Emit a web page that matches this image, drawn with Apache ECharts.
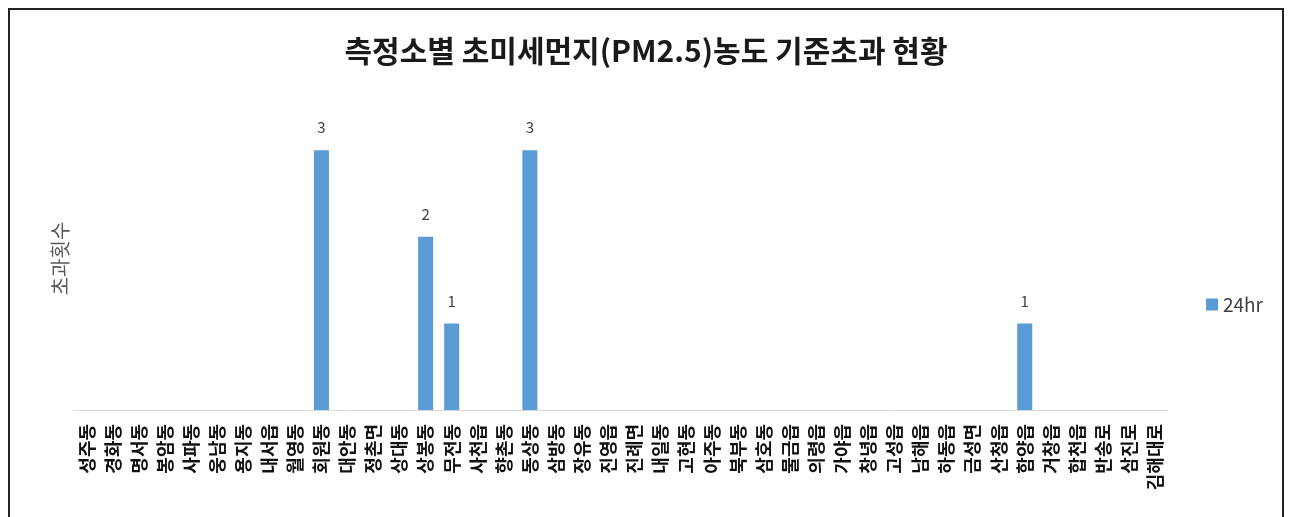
<!DOCTYPE html>
<html>
<head>
<meta charset="utf-8">
<script src="https://cdn.jsdelivr.net/npm/echarts@6/dist/echarts.min.js"></script>
<style>
html,body{margin:0;padding:0;background:#fff;}
#chart{width:1292px;height:517px;}
</style>
</head>
<body>
<div id="chart"></div>
<script>
const titleText = '측정소별 초미세먼지(PM2.5)농도 기준초과 현황';
const yAxisName = '초과횟수';
const seriesName = '24hr';
const stations = ['성주동','경화동','명서동','봉암동','사파동','웅남동','용지동','내서읍','월영동','회원동',
  '대안동','정촌면','상대동','상봉동','무전동','사천읍','향촌동','동상동','삼방동','장유동',
  '진영읍','진례면','내일동','고현동','아주동','북부동','삼호동','물금읍','의령읍','가야읍',
  '창녕읍','고성읍','남해읍','하동읍','금성면','산청읍','함양읍','거창읍','합천읍','반송로',
  '삼진로','김해대로'];
const exceedCounts = [0,0,0,0,0,0,0,0,0,3,
  0,0,0,2,1,0,0,3,0,0,
  0,0,0,0,0,0,0,0,0,0,
  0,0,0,0,0,0,1,0,0,0,
  0,0];

const chart = echarts.init(document.getElementById('chart'));
const font = '"Noto Sans CJK KR", "Noto Sans", sans-serif';
chart.setOption({
  backgroundColor: '#fff',
  animation: false,
  textStyle: {fontFamily: font},
  title: {
    text: titleText,
    left: 'center',
    top: 31,
    textStyle: {fontFamily: font, fontSize: 30, fontWeight: 'bold', color: '#1a1a1a'}
  },
  graphic: [{
    type: 'rect',
    shape: {x: 9, y: 9, width: 1274, height: 530},
    style: {fill: 'none', stroke: '#222', lineWidth: 2},
    silent: true
  }],
  legend: {
    data: [seriesName],
    left: 1201,
    top: 290,
    itemWidth: 12,
    itemHeight: 12,
    itemGap: 6,
    icon: 'rect',
    textStyle: {fontFamily: font, fontSize: 19, color: '#404040'}
  },
  grid: {left: 74, right: 124, top: 107, bottom: 107, containLabel: false},
  xAxis: {
    type: 'category',
    data: stations,
    axisLine: {lineStyle: {color: '#d9d9d9', width: 1}},
    axisTick: {show: false},
    axisLabel: {
      interval: 0,
      rotate: 90,
      margin: 14,
      fontFamily: font,
      fontSize: 18,
      fontWeight: 'bold',
      color: '#111'
    }
  },
  yAxis: {
    type: 'value',
    min: 0,
    max: 3.5,
    interval: 0.5,
    name: yAxisName,
    nameLocation: 'middle',
    nameGap: 4,
    nameRotate: 90,
    nameTextStyle: {fontFamily: font, fontSize: 20, color: '#595959'},
    axisLine: {show: false},
    axisTick: {show: false},
    axisLabel: {show: false},
    splitLine: {show: false}
  },
  series: [{
    name: seriesName,
    type: 'bar',
    data: exceedCounts,
    barWidth: 15,
    itemStyle: {color: '#5B9BD5'},
    label: {
      show: true,
      position: 'top',
      distance: 15,
      fontFamily: font,
      fontSize: 15,
      color: '#404040',
      formatter: p => p.value > 0 ? String(p.value) : ''
    }
  }]
});
</script>
</body>
</html>
